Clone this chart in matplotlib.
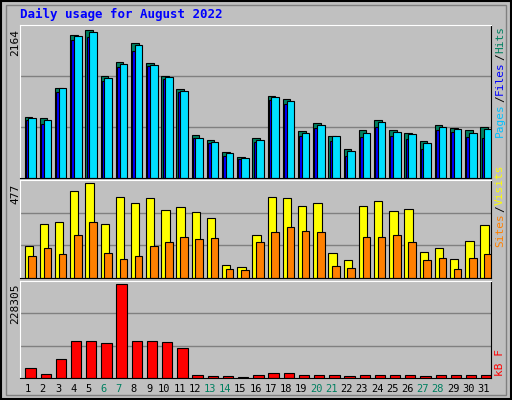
import matplotlib
matplotlib.use("Agg")
import matplotlib.pyplot as plt
import numpy as np
from matplotlib.patches import Rectangle

days = np.arange(1, 32)
weekend = [6, 7, 13, 14, 20, 21, 27, 28]

# values
hits = [898, 884, 1311, 2096, 2164, 1497, 1703, 1982, 1679, 1497, 1306, 626,
        553, 377, 303, 582, 1199, 1155, 685, 802, 612, 421, 700, 847, 700, 656,
        538, 773, 729, 700, 744]
files = [884, 852, 1311, 2076, 2140, 1468, 1674, 1953, 1660, 1482, 1277, 582,
         523, 362, 289, 553, 1185, 1126, 656, 773, 612, 391, 656, 818, 670, 641,
         509, 744, 714, 656, 714]
pages = [842, 797, 1253, 2017, 2061, 1424, 1630, 1865, 1644, 1453, 1253, 582,
         509, 318, 274, 523, 1140, 1082, 612, 729, 538, 328, 597, 744, 612, 567,
         431, 700, 670, 597, 582]
visits = [161, 270, 280, 436, 477, 270, 404, 378, 399, 342, 358, 332, 301, 67,
          57, 214, 404, 399, 363, 378, 124, 88, 363, 384, 337, 347, 129, 150,
          93, 187, 264]
sites = [109, 150, 119, 218, 280, 124, 93, 109, 161, 182, 207, 197, 202, 47,
         41, 182, 233, 254, 238, 233, 62, 52, 207, 207, 218, 182, 88, 98, 47,
         98, 119]
kbytes = [23300, 10800, 45800, 90800, 90800, 85800, 228305, 90800, 90800,
          88300, 73300, 8300, 5800, 5800, 3300, 8300, 13300, 13300, 8300, 8300,
          8300, 5800, 8300, 8300, 8300, 8300, 5800, 8300, 8300, 8300, 8300]

BG = "#C0C0C0"
W, H = 512, 400
fig = plt.figure(figsize=(W / 100, H / 100), dpi=100)
fig.patch.set_facecolor(BG)
mono = "DejaVu Sans Mono"

# outer frame
fig.add_artist(Rectangle((1 / W, 1 / H), 1 - 2 / W, 1 - 2 / H, transform=fig.transFigure,
                         fill=False, ec="black", lw=1.5))
fig.add_artist(Rectangle((6 / W, 5 / H), 1 - 12 / W, 1 - 10 / H, transform=fig.transFigure,
                         fill=False, ec="#808080", lw=1))


def panel(y0, y1):
    ax = fig.add_axes([20 / W, 1 - y1 / H, 471 / W, (y1 - y0) / H])
    ax.set_facecolor(BG)
    ax.set_xlim(0.5, 31.5)
    ax.set_xticks([])
    ax.set_yticks([])
    for s in ax.spines.values():
        s.set_color("black")
    ax.spines["top"].set_color("white")
    ax.spines["left"].set_color("white")
    return ax


def grid(ax, top):
    for f in (1 / 3, 2 / 3):
        ax.axhline(top * f, color="#808080", lw=1, zorder=0)


kw = dict(edgecolor="black", linewidth=0.8, align="edge")

ax1 = panel(25, 178)
top1 = max(hits) * 1.035
ax1.set_ylim(0, top1)
grid(ax1, top1)
ax1.bar(days - 0.2, hits, width=0.5, color="#008060", **kw)
ax1.bar(days - 0.12, pages, width=0.25, color="#0000FF", **kw)
ax1.bar(days + 0.05, files, width=0.5, color="#00E0FF", **kw)
fig.text(15 / W, 1 - 29 / H, f"{max(hits)}", rotation=90, ha="center", va="top",
         fontsize=8, family=mono)

ax2 = panel(180, 278)
top2 = max(visits) * 1.03
ax2.set_ylim(0, top2)
grid(ax2, top2)
ax2.bar(days - 0.2, visits, width=0.55, color="#FFFF00", **kw)
ax2.bar(days + 0.05, sites, width=0.5, color="#FF8000", **kw)
fig.text(15 / W, 1 - 184 / H, f"{max(visits)}", rotation=90, ha="center", va="top",
         fontsize=8, family=mono)

ax3 = panel(281, 378)
top3 = max(kbytes) * 1.035
ax3.set_ylim(0, top3)
grid(ax3, top3)
ax3.bar(days - 0.15, kbytes, width=0.68, color="#FF0000", **kw)
fig.text(15 / W, 1 - 284 / H, f"{max(kbytes)}", rotation=90, ha="center", va="top",
         fontsize=8, family=mono)

for d in days:
    c = "#008060" if d in weekend else "black"
    x = 20 + (d - 0.5) / 31 * 471
    fig.text(x / W, 1 - 389 / H, str(d), ha="center", va="center", fontsize=7.5,
             color=c, family=mono)

fig.text(20 / W, 1 - 14 / H, "Daily usage for August 2022", ha="left", va="center",
         fontsize=9, fontweight="bold", color="#0000FF", family=mono)


def side_label(y_bottom, parts, step=6.6):
    y = y_bottom
    for txt, col in parts:
        fig.text(500 / W, 1 - y / H, txt, rotation=90, ha="center", va="bottom",
                 fontsize=8, color=col, family=mono)
        y -= len(txt) * step


side_label(137, [("Pages", "#00C0FF"), ("/", "#000000"), ("Files", "#0000FF"),
                 ("/", "#000000"), ("Hits", "#008060")], step=7.0)
side_label(247, [("Sites", "#FF8000"), ("/", "#000000"), ("Visits", "#FFFF00")], step=7.0)
side_label(376, [("kB F", "#FF0000")])

fig.savefig("out.png", dpi=100, facecolor=BG)
